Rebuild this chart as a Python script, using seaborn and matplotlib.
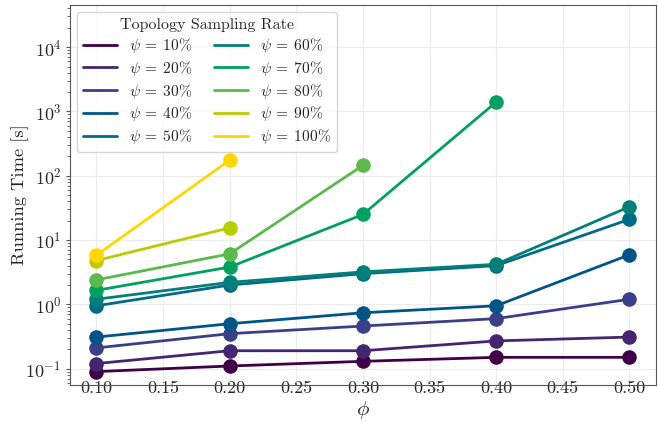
import pandas as pd
import matplotlib
matplotlib.use("Agg")
import matplotlib.pyplot as plt
import seaborn as sns
from matplotlib.lines import Line2D

# sampling rates and the phi values each run reached
rates = [10, 20, 30, 40, 50, 60, 70, 80, 90, 100]
phi = [0.1, 0.2, 0.3, 0.4, 0.5]

times = {
    10: [0.09, 0.11, 0.13, 0.15, 0.15],
    20: [0.12, 0.19, 0.19, 0.27, 0.31],
    30: [0.21, 0.35, 0.46, 0.60, 1.2],
    40: [0.31, 0.50, 0.74, 0.95, 5.9],
    50: [0.95, 2.0, 3.0, 4.0, 21.0],
    60: [1.2, 2.2, 3.2, 4.2, 33.0],
    70: [1.65, 3.8, 25.0, 1400.0],
    80: [2.4, 6.1, 145.0],
    90: [4.8, 15.5],
    100: [5.8, 175.0],
}

colors = ["#3f0046", "#452570", "#3a3f88", "#005588", "#006a8a",
          "#008078", "#00a060", "#5cb94c", "#b8cc00", "#ffd700"]

rows = []
for r in rates:
    for x, t in zip(phi, times[r]):
        rows.append({"phi": x, "time": t, "rate": r})
df = pd.DataFrame(rows)

sns.set_style("whitegrid", {"grid.color": "#ebebeb", "axes.edgecolor": "#555555",
                            "ytick.left": True})
plt.rcParams["font.family"] = "serif"
plt.rcParams["font.serif"] = ["cmr10"]
plt.rcParams["mathtext.fontset"] = "cm"
plt.rcParams["axes.formatter.use_mathtext"] = True

fig = plt.figure(figsize=(6.58, 4.30), dpi=100)
ax = fig.add_axes([0.106, 0.105, 0.891, 0.883])

pal = dict(zip(rates, colors))
sns.lineplot(data=df, x="phi", y="time", hue="rate", palette=pal, marker="o",
             markersize=10.5, markeredgewidth=0, linewidth=2, legend=False, ax=ax)

ax.set_yscale("log")
ax.set_ylim(0.056, 4.5e4)
ticks = [0.10, 0.15, 0.20, 0.25, 0.30, 0.35, 0.40, 0.45, 0.50]
ax.set_xticks(ticks)
ax.set_xticklabels([f"{v:.2f}" for v in ticks])
ax.tick_params(axis="x", labelsize=13, length=0, pad=-2.7)
ax.tick_params(axis="y", labelsize=13, length=3, color="#555555", pad=3)
ax.tick_params(axis="y", which="minor", length=2, color="#555555", left=True)
ax.set_xlabel(r"$\phi$", fontsize=15, labelpad=2)
ax.set_ylabel("Running Time [s]", fontsize=13.3, labelpad=-2.6)
ax.grid(True, which="major", color="#ebebeb")

handles = [Line2D([0], [0], color=c, lw=2) for c in colors]
labels = [rf"$\psi \:=\: {r}\%$" for r in rates]
leg = ax.legend(handles, labels, ncol=2, loc="upper left",
                title="Topology Sampling Rate",
                fontsize=11.2, title_fontsize=11.5, handlelength=2.2, handletextpad=0.75,
                columnspacing=1.4, labelspacing=0.24, borderaxespad=0.45, frameon=True)

fig.savefig("out.png", dpi=100)
